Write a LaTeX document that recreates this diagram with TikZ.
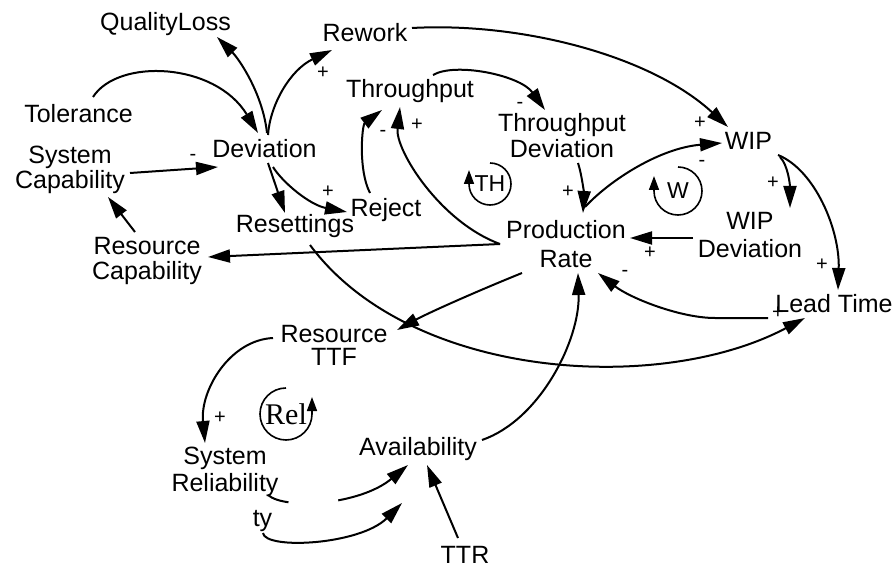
\documentclass[tikz,border=0pt]{standalone}
\usepackage{fontspec}
\setmainfont{Liberation Sans}
\newfontfamily\loopserif{Liberation Serif}
\usetikzlibrary{arrows.meta}
\begin{document}
\begin{tikzpicture}[x=1pt,y=-1pt,
  var/.style={font=\fontsize{25}{26}\selectfont, inner sep=0pt, align=center},
  word/.style={var, anchor=base},
  link/.style={line width=2pt, -{Triangle[length=22pt,width=13pt]}},
  sgn/.style={font=\fontsize{20}{20}\selectfont, inner sep=0pt},
  loopline/.style={line width=1.6pt, -{Triangle[length=14pt,width=10pt]}},
  loopname/.style={font=\fontsize{23}{23}\selectfont, inner sep=0pt}
]
\useasboundingbox (0,0) rectangle (895,567);

% variables
\node[word] (ql)  at (165.5,30.5) {QualityLoss};
\node[word] (rw)  at (365,42)     {Rework};
\node[word] (tol) at (78.5,123)   {Tolerance};
\node[word] (thr) at (410,98)     {Throughput};
\node[word] (dev) at (264.5,158)  {Deviation};
\node[word] (rej) at (386,217)    {Reject};
\node[word] (res) at (295,233)    {Resettings};
\node[word] (wip) at (748.5,150)  {WIP};
\node[word] (lt)  at (834,312)    {Lead Time};
\node[word] (av)  at (418,455)    {Availability};
\node[word] (ty)  at (262.5,526)  {ty};
\node[word] (ttr) at (465,563)    {TTR};
\node[var] (sc) at (70,170)  {System\\[-1pt]Capability};
\node[var] (rc) at (147,261) {Resource\\[-1pt]Capability};
\node[var] (td) at (562,136) {Throughput\\Deviation};
\node[var] (pr) at (566,244) {Production\\[3pt]Rate};
\node[var] (wd) at (750,235) {WIP\\[2pt]Deviation};
\node[var] (rt) at (334,345) {Resource\\[-3pt]TTF};
\node[var] (sr) at (225,472) {System\\[1pt]Reliability};

% causal links
\draw[link] ([shift={(2.5,-25)}]dev.base) .. controls (263,95) and (240,60) .. ([shift={(51.5,6.5)}]ql.base);
\draw[link] ([shift={(3.5,-23)}]dev.base) .. controls (270,105) and (290,70) .. ([shift={(-33,8)}]rw.base);
\draw[link] ([shift={(14.5,-26)}]tol.base) .. controls (118,58) and (215,62) .. ([shift={(-6.5,-25)}]dev.base);
\draw[link] ([shift={(60,3)}]sc.center) -- ([shift={(-46.5,9)}]dev.base);
\draw[link] ([shift={(-12,-29)}]rc.center) -- ([shift={(38,27)}]sc.center);
\draw[link] ([shift={(3.5,5)}]dev.base) -- ([shift={(-10,-20)}]res.base);
\draw[link] ([shift={(8.5,9)}]dev.base) .. controls (283,183) and (310,205) .. ([shift={(-39,-5)}]rej.base);
\draw[link] ([shift={(-16,-24)}]rej.base) .. controls (358,170) and (362,125) .. ([shift={(-28,12)}]thr.base);
\draw[link] ([shift={(-66,0)}]pr.center) .. controls (440,222) and (395,150) .. ([shift={(-10,9)}]thr.base);
\draw[link] ([shift={(23,-23)}]thr.base) .. controls (455,62) and (520,75) .. ([shift={(-17,-26)}]td.center);
\draw[link] ([shift={(47,-14)}]rw.base) .. controls (520,22) and (650,55) .. ([shift={(-20.5,-23)}]wip.base);
\draw[link] ([shift={(16,27)}]td.center) .. controls (582,175) and (584,195) .. ([shift={(17,-31)}]pr.center);
\draw[link] ([shift={(19,-37)}]pr.center) .. controls (610,180) and (660,148) .. ([shift={(-26.5,-7)}]wip.base);
\draw[link] ([shift={(31.5,7)}]wip.base) .. controls (788,165) and (790,185) .. ([shift={(40,-27)}]wd.center);
\draw[link] ([shift={(29.5,5)}]wip.base) .. controls (815,170) and (840,230) .. ([shift={(4,-22)}]lt.base);
\draw[link] ([shift={(-57,3)}]wd.center) -- ([shift={(64,-6)}]pr.center);
\draw[link] ([shift={(-66,6)}]lt.base) -- (715,318) .. controls (680,318) and (630,298) .. ([shift={(32,29)}]pr.center);
\draw[link] ([shift={(-66,0)}]pr.center) -- ([shift={(61,-4)}]rc.center);
\draw[link] ([shift={(15,12)}]res.base) .. controls (410,380) and (660,395) .. ([shift={(-29,6)}]lt.base);
\draw[link] ([shift={(-44,29)}]pr.center) .. controls (480,290) and (430,312) .. ([shift={(63,-15)}]rt.center);
\draw[link] ([shift={(64,-15)}]av.base) .. controls (540,420) and (580,340) .. ([shift={(12,29)}]pr.center);
\draw[link] ([shift={(-61,-7)}]rt.center) .. controls (230,340) and (200,390) .. ([shift={(-20,-29)}]sr.center);
\draw[link, dash pattern=on 22pt off 50pt on 400pt] ([shift={(43,23)}]sr.center) .. controls (285,510) and (360,505) .. ([shift={(-10,10)}]av.base);
\draw[link] ([shift={(0.5,7)}]ty.base) .. controls (265,550) and (360,545) .. ([shift={(-16,48)}]av.base);
\draw[link] ([shift={(-7,-25)}]ttr.base) -- ([shift={(9,10)}]av.base);

% loop markers
\node[loopname] (th) at (490,184) {TH};
\draw[loopline] ([shift={(0,-21)}]th.center) arc[start angle=90, end angle=-180, radius=21pt] -- ++(0,-14);
\node[loopname] (w) at (678,191) {W};
\draw[loopline] ([shift={(0,-24)}]w.center) arc[start angle=90, end angle=-180, radius=24pt] -- ++(0,-15);
\node[font=\loopserif\fontsize{30}{30}\selectfont, inner sep=0pt] (rel) at (286,414) {Rel};
\draw[loopline] ([shift={(0,-26)}]rel.center) arc[start angle=90, end angle=360, radius=26pt] -- ++(0,-17);

% polarities
\node[sgn] (s1)  at (323,73)  {+};
\node[sgn] (s2)  at (383,133) {-};
\node[sgn] (s3)  at (417,125) {+};
\node[sgn] (s4)  at (193,157) {-};
\node[sgn] (s5)  at (328,192) {+};
\node[sgn] (s6)  at (520,105) {-};
\node[sgn] (s7)  at (700,123) {+};
\node[sgn] (s8)  at (702,163) {-};
\node[sgn] (s9)  at (568,192) {+};
\node[sgn] (s10) at (773,183) {+};
\node[sgn] (s11) at (650,253) {+};
\node[sgn] (s12) at (822,265) {+};
\node[sgn] (s13) at (625,273) {-};
\node[sgn] (s14) at (778,313) {+};
\node[sgn] (s15) at (220,418) {+};
\end{tikzpicture}
\end{document}
